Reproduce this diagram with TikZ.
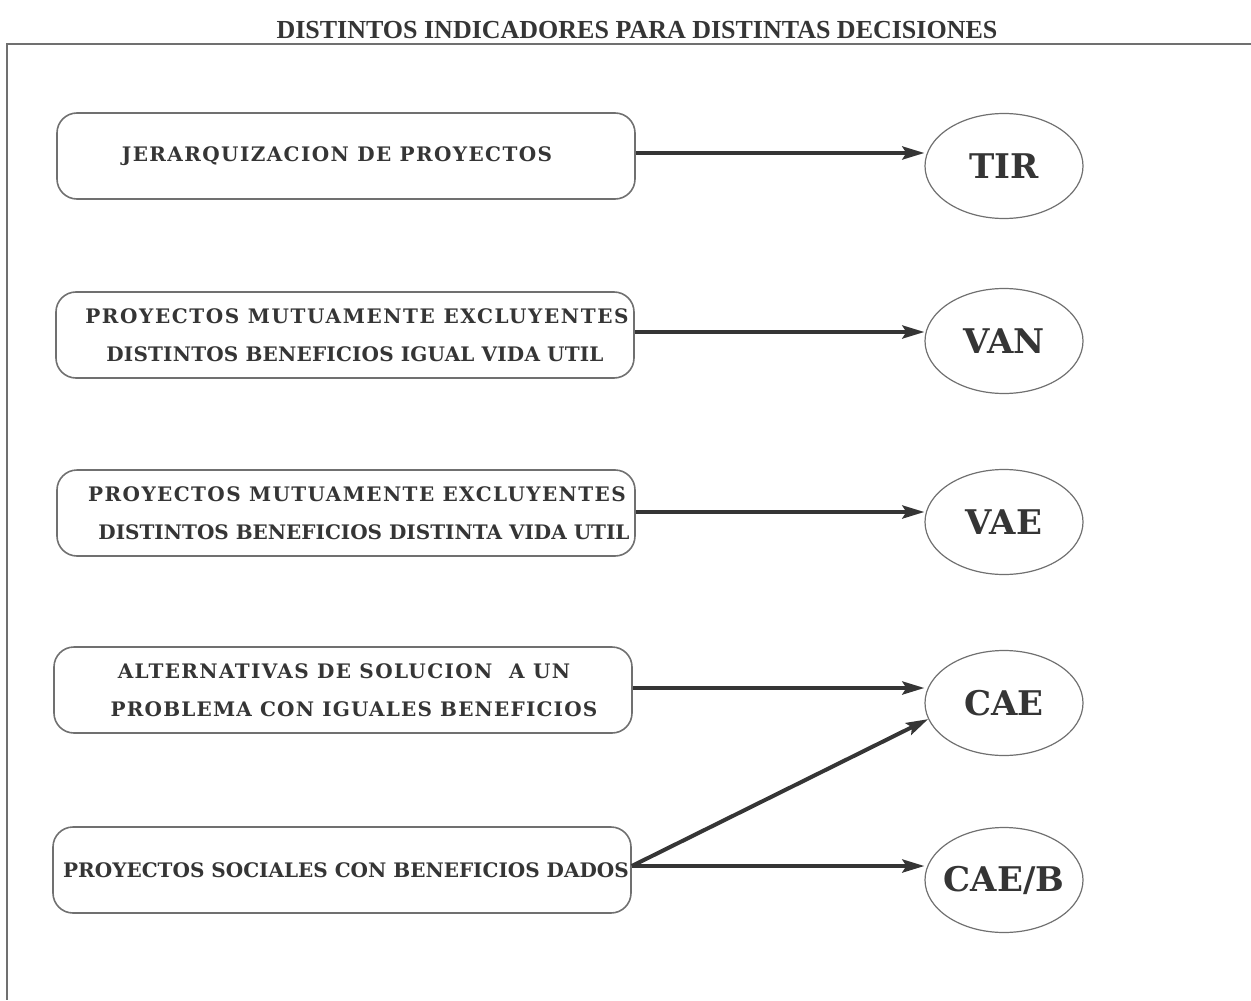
\documentclass[tikz,border=0pt]{standalone}
\usepackage{fontspec}
\setmainfont{Liberation Serif}
\newfontfamily\boxfont{DejaVu Serif}
\usetikzlibrary{shapes.geometric,arrows.meta}
\definecolor{ink}{HTML}{353535}
\definecolor{edge}{HTML}{707070}
\tikzset{
  box/.style={draw=edge, line width=0.8pt, rounded corners=10pt, minimum width=289pt, minimum height=43pt, align=center, text=ink, inner sep=0pt, font=\boxfont\fontsize{10}{19}\selectfont\bfseries},
  oval/.style={draw=edge, line width=0.6pt, ellipse, minimum width=79pt, minimum height=52.5pt, inner sep=0pt, text=ink, font=\boxfont\fontsize{17}{18}\selectfont\bfseries},
  arr/.style={draw=ink, line width=2pt, -{Stealth[length=11pt,width=6.5pt,inset=2pt]}},
  frame/.style={draw=edge, line width=0.6pt}
}
\newcommand{\boxline}[2]{{\addfontfeature{LetterSpace=#1}#2}}
\begin{document}
\begin{tikzpicture}[x=0.5pt,y=-0.5pt]
\useasboundingbox (0,0) rectangle (1251,1000);
\node[text=ink, font=\fontsize{13}{14}\selectfont\bfseries] (title) at (637,30) {DISTINTOS INDICADORES PARA DISTINTAS DECISIONES};
\coordinate (fl) at (7,44);
\coordinate (fr) at (1251,44);
\coordinate (fb) at (7,1000);
\draw[frame] (fr) -- (fl) -- (fb);

\node[box] (b1) at (346,156) {\boxline{7}{JERARQUIZACION DE PROYECTOS}\hspace*{9pt}};
\node[box] (b2) at (345,335) {\hspace*{12pt}\boxline{8}{PROYECTOS MUTUAMENTE EXCLUYENTES}\\\hspace*{10pt}\boxline{1}{DISTINTOS BENEFICIOS IGUAL VIDA UTIL}};
\node[box] (b3) at (346,513) {\hspace*{11pt}\boxline{7}{PROYECTOS MUTUAMENTE EXCLUYENTES}\\\hspace*{18pt}\boxline{0}{DISTINTOS BENEFICIOS DISTINTA VIDA UTIL}};
\node[box] (b4) at (343,690) {\hspace*{1pt}\boxline{7}{ALTERNATIVAS DE SOLUCION\ \ A UN}\\\hspace*{11pt}\boxline{6}{PROBLEMA CON IGUALES BENEFICIOS}};
\node[box] (b5) at (342,870) {\hspace*{4pt}\boxline{0}{PROYECTOS SOCIALES CON BENEFICIOS DADOS}};

\node[oval] (tir) at (1004,166) {\makebox[0pt]{TIR}};
\node[oval] (van) at (1004,341) {\makebox[0pt]{VAN}};
\node[oval] (vae) at (1004,522) {\makebox[0pt]{VAE}};
\node[oval] (cae) at (1004,703) {\makebox[0pt]{CAE}};
\node[oval] (caeb) at (1004,880) {\makebox[0pt]{CAE/B}};

\draw[arr] (b1.east |- 0,153) -- (tir.west |- 0,153);
\draw[arr] (b2.east |- 0,332) -- (van.west |- 0,332);
\draw[arr] (b3.east |- 0,512) -- (vae.west |- 0,512);
\draw[arr] (b4.east |- 0,688) -- (cae.west |- 0,688);
\draw[arr] (b5.east |- 0,866) -- (caeb.west |- 0,866);
\draw[arr] (b5.east |- 0,866) -- (cae.192);
\end{tikzpicture}
\end{document}
